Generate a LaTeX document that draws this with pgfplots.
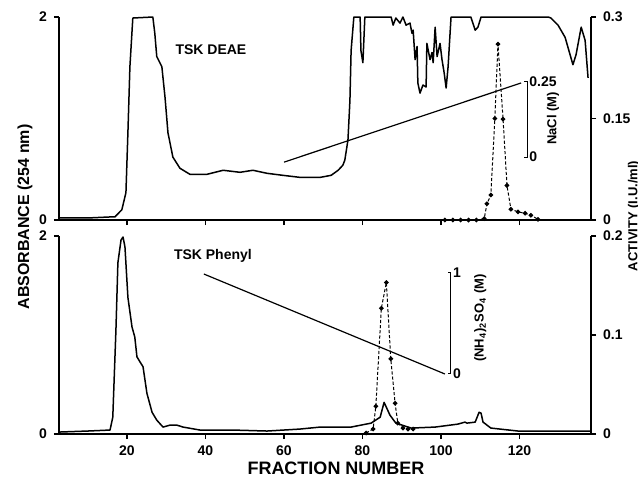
\documentclass[border=0pt]{standalone}
\usepackage{fontspec}
\setmainfont{Liberation Sans}
\usepackage{pgfplots}
\pgfplotsset{compat=1.18}

\pgfplotsset{
  chrom/.style={
    scale only axis, width=266pt,
    xmin=2.7, xmax=138.2,
    xtick={20,40,...,120},
    axis line style={-, line width=0.6pt},
    tick style={line width=0.6pt, black},
    major tick length=2.5pt,
    tick align=outside,
    ticklabel style={font=\bfseries\fontsize{7}{8}\selectfont},
    /pgf/number format/assume math mode=true,
    clip=false,
  },
  trace/.style={black, line width=0.75pt, line join=round},
  act/.style={black, line width=0.5pt, dash pattern=on 1.6pt off 1pt,
    mark=*, mark size=0.9pt, mark options={solid}},
  grad/.style={black, line width=0.6pt},
}

\begin{document}
\begin{tikzpicture}
\path[use as bounding box] (0,0) rectangle (319pt,-238.5pt);

% ---------- top panel: TSK DEAE ----------
\begin{axis}[chrom, at={(29.5pt,-110pt)}, anchor=south west, height=101.5pt,
  axis x line*=bottom, axis y line*=left,
  ymin=0, ymax=2, ytick={0,2}, xticklabels={}]
\addplot[trace] coordinates {
 (2.7,0.02)(10,0.02)(15.7,0.03)(16.9,0.03)(18.7,0.10)(19.75,0.27)(20.25,0.86)
 (20.76,1.51)(21.5,1.99)(26.6,2.0)(27.1,1.84)(27.6,1.61)(28.9,1.51)(29.7,1.21)
 (30.45,0.86)(31.7,0.62)(33.5,0.51)(36.05,0.45)(40.4,0.45)(44.5,0.49)(48.8,0.47)
 (52.1,0.49)(55.7,0.46)(59.75,0.44)(64.1,0.42)(69.2,0.42)(72.0,0.44)(73.8,0.49)
 (75.0,0.54)(75.5,0.59)(76.3,0.79)(76.8,1.18)(77.1,1.67)(77.8,2.0)(79.4,2.0)
 (79.6,1.67)(80.1,1.55)(80.6,2.0)(87.3,2.0)(87.8,1.92)(88.5,1.99)(89.55,1.94)
 (90.3,2.0)(91.1,1.92)(92.1,1.94)(92.6,1.84)(92.9,1.87)(93.4,1.58)(93.9,1.71)
 (94.1,1.35)(94.65,1.25)(95.4,1.33)(96.2,1.31)(96.4,1.74)(97.2,1.58)(97.7,1.65)
 (98.0,1.55)(98.5,1.90)(99.0,1.61)(99.75,1.74)(100.25,1.58)(100.8,1.45)
 (101.3,1.30)(101.8,1.51)(102.55,2.0)(107.6,2.0)(108.7,1.87)(109.4,1.90)
 (110.2,2.0)(127.3,2.0)(128.0,1.99)(129.8,1.92)(131.6,1.80)(133.6,1.53)
 (134.4,1.63)(135.7,1.90)(136.7,1.77)(137.45,1.40)};
% NaCl gradient
\addplot[grad] coordinates {(60,0.57)(120.4,1.35)};
\draw[line width=0.5pt] (axis cs:121.2,1.36) -- (axis cs:121.9,1.36)
  -- (axis cs:121.9,0.62) -- (axis cs:121.2,0.62);
\node[anchor=west, inner sep=1pt, font=\bfseries\fontsize{7}{8}\selectfont]
  at (axis cs:121.9,1.36) {0.25};
\node[anchor=west, inner sep=1pt, font=\bfseries\fontsize{7}{8}\selectfont]
  at (axis cs:121.9,0.62) {0};
\node[rotate=90, font=\bfseries\fontsize{6.5}{7.5}\selectfont]
  at (axis cs:128.5,1.0) {NaCl (M)};
\node[font=\bfseries\fontsize{7}{8}\selectfont] at (axis cs:41.4,1.675) {TSK DEAE};
\end{axis}

\begin{axis}[chrom, at={(29.5pt,-110pt)}, anchor=south west, height=101.5pt,
  axis y line*=right, axis x line=none,
  ymin=0, ymax=0.3, ytick={0,0.15,0.3}, yticklabels={0,0.15,0.3}]
\addplot[act] coordinates {
 (101,0)(103,0)(105,0)(107,0)(109,0)(111,0.002)(111.7,0.024)(112.7,0.037)
 (113.7,0.15)(114.5,0.26)(115.8,0.149)(116.8,0.051)(117.8,0.016)(119.6,0.012)
 (121.4,0.010)(122.9,0.007)(124.7,0.001)};
\end{axis}

% ---------- bottom panel: TSK Phenyl ----------
\begin{axis}[chrom, at={(29.5pt,-217pt)}, anchor=south west, height=99pt,
  axis x line*=bottom, axis y line*=left,
  ymin=0, ymax=2, ytick={0,2}]
\addplot[trace] coordinates {
 (2.9,0.02)(10,0.03)(15.7,0.04)(16.4,0.17)(17.2,1.05)(17.7,1.73)(18.5,1.96)
 (19.0,1.99)(19.5,1.89)(20.25,1.38)(21.3,1.08)(22.0,0.98)(22.55,0.78)(23.3,0.73)
 (24.1,0.68)(25.1,0.41)(26.4,0.22)(27.6,0.14)(29.2,0.07)(31.0,0.09)(32.7,0.09)
 (34.3,0.07)(38.6,0.04)(47,0.04)(55.7,0.03)(64.1,0.05)(69.2,0.07)(77.1,0.07)
 (82.2,0.11)(84.5,0.17)(85.5,0.32)(87.0,0.19)(88.5,0.11)(92.4,0.06)(98.5,0.07)
 (104.3,0.10)(106.1,0.12)(106.6,0.11)(108.7,0.12)(109.7,0.22)(110.2,0.21)
 (110.7,0.12)(112.7,0.06)(119.6,0.03)(128,0.03)(138.2,0.03)};
% (NH4)2SO4 gradient
\addplot[grad] coordinates {(39.6,1.616)(101,0.606)};
\draw[line width=0.5pt] (axis cs:101.8,1.63) -- (axis cs:102.5,1.63)
  -- (axis cs:102.5,0.61) -- (axis cs:101.8,0.61);
\node[anchor=west, inner sep=1pt, font=\bfseries\fontsize{7}{8}\selectfont]
  at (axis cs:102.5,1.63) {1};
\node[anchor=west, inner sep=1pt, font=\bfseries\fontsize{7}{8}\selectfont]
  at (axis cs:102.5,0.61) {0};
\node[rotate=90, font=\bfseries\fontsize{6.5}{7.5}\selectfont]
  at (axis cs:110,1.17) {(NH\textsubscript{4})\textsubscript{2}SO\textsubscript{4} (M)};
\node[font=\bfseries\fontsize{7}{8}\selectfont] at (axis cs:41.9,1.80) {TSK Phenyl};
\end{axis}

\begin{axis}[chrom, at={(29.5pt,-217pt)}, anchor=south west, height=99pt,
  axis y line*=right, axis x line=none,
  ymin=0, ymax=0.2, ytick={0,0.1,0.2}, yticklabels={0,0.1,0.2}]
\addplot[act] coordinates {
 (80.9,0.001)(82.7,0.005)(83.4,0.028)(84.8,0.127)(86.07,0.153)(87.2,0.076)
 (88.3,0.031)(89.0,0.011)(90.3,0.006)(91.6,0.005)(92.9,0.005)};
\end{axis}

% shared axis titles
\node[rotate=90, font=\bfseries\fontsize{8}{9}\selectfont] at (12.5pt,-108.5pt)
  {ABSORBANCE (254 nm)};
\node[rotate=90, font=\bfseries\fontsize{6.5}{7.5}\selectfont] at (317pt,-108pt)
  {ACTIVITY (I.U./ml)};
\node[anchor=base, inner sep=0pt, font=\bfseries\fontsize{9}{10}\selectfont]
  at (168pt,-237pt) {FRACTION NUMBER};
\end{tikzpicture}
\end{document}
